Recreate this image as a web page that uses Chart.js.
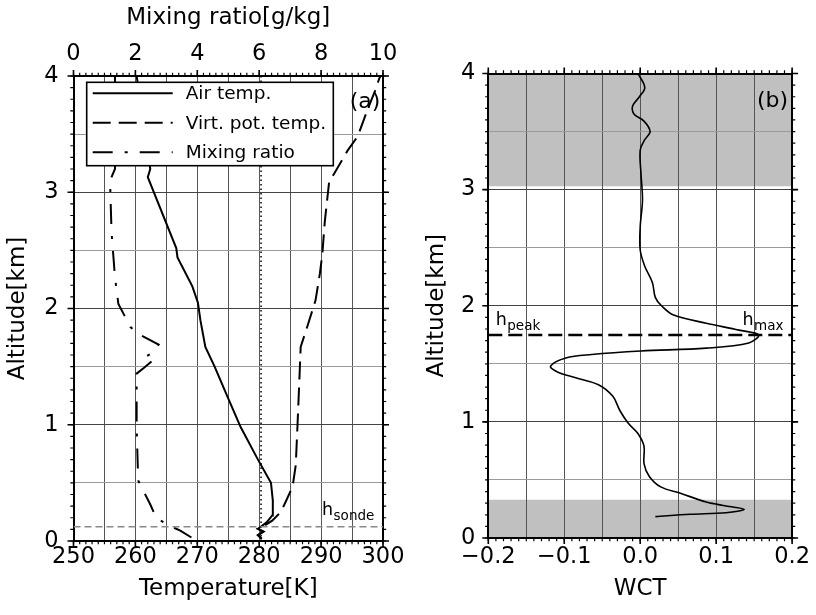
<!DOCTYPE html>
<html><head><meta charset="utf-8">
<script src="https://cdn.jsdelivr.net/npm/chart.js@4.4.1/dist/chart.umd.min.js"></script>
<style>
html,body{margin:0;padding:0;background:#fff;}
#wrap{position:relative;width:816px;height:615px;overflow:hidden;background:#fff;}
canvas{position:absolute;top:0;}
#c1{left:0;} #c2{left:410px;}
</style></head><body>
<div id="wrap"><canvas id="c1" width="410" height="615"></canvas><canvas id="c2" width="406" height="615"></canvas></div>
<script>
// ---------- data ----------
const seriesNames = ['Air temp.', 'Virt. pot. temp.', 'Mixing ratio'];
const airT   = [280.4, 279.8, 280.7, 279.8, 280.3, 281.2, 282.1, 282.2, 281.9, 279.8, 277.0, 274.8, 272.8, 271.3, 270.5, 270.1, 269.2, 266.8, 266.6, 262.0, 262.4, 261.3, 260.2];
const airAlt = [0.02, 0.05, 0.08, 0.105, 0.125, 0.16, 0.22, 0.35, 0.50, 0.70, 0.98, 1.25, 1.50, 1.67, 1.90, 2.05, 2.19, 2.44, 2.52, 3.13, 3.20, 3.60, 4.00];
const vptT   = [280.4, 279.8, 280.7, 279.8, 280.5, 282.1, 283.5, 284.3, 285.4, 285.9, 286.2, 286.5, 286.7, 287.8, 289.1, 289.8, 290.2, 290.6, 291.3, 292.1, 294.3, 295.9, 297.5, 298.7, 299.4, 299.6];
const vptAlt = [0.02, 0.05, 0.08, 0.105, 0.12, 0.175, 0.25, 0.34, 0.47, 0.65, 1.01, 1.40, 1.67, 1.85, 2.07, 2.30, 2.47, 2.75, 3.09, 3.16, 3.36, 3.48, 3.71, 3.87, 3.98, 4.00];
const mixR   = [3.81, 3.45, 3.17, 2.68, 2.47, 2.09, 2.04, 2.04, 2.28, 2.55, 2.31, 2.52, 2.75, 2.10, 1.84, 1.45, 1.34, 1.23, 1.18, 1.34, 1.34];
const mixAlt = [0.03, 0.09, 0.123, 0.195, 0.32, 0.52, 0.98, 1.44, 1.49, 1.55, 1.58, 1.615, 1.69, 1.78, 1.84, 2.04, 2.27, 2.65, 3.10, 3.20, 4.00];
const wctVal = [-0.003, 0.006, -0.001, -0.010, -0.008, 0.005, 0.013, 0.006, 0.000, 0.001, 0.003, 0.000, 0.000, 0.006, 0.016, 0.020, 0.028, 0.044, 0.087, 0.130, 0.156, 0.143, 0.087, 0.001, -0.064, -0.098, -0.118, -0.109, -0.085, -0.055, -0.036, -0.027, -0.016, -0.003, 0.005, 0.005, 0.012, 0.027, 0.053, 0.087, 0.113, 0.137, 0.113, 0.066, 0.020];
const wctAlt = [4.00, 3.88, 3.80, 3.72, 3.65, 3.59, 3.50, 3.43, 3.34, 3.14, 2.91, 2.68, 2.48, 2.34, 2.20, 2.07, 2.00, 1.92, 1.85, 1.79, 1.748, 1.68, 1.635, 1.61, 1.58, 1.55, 1.48, 1.43, 1.38, 1.32, 1.22, 1.10, 0.99, 0.90, 0.79, 0.64, 0.53, 0.44, 0.385, 0.31, 0.276, 0.247, 0.218, 0.204, 0.184];
const tempTicks = [250, 260, 270, 280, 290, 300];
const mixTicks  = [0, 2, 4, 6, 8, 10];
const altTicks  = [0, 1, 2, 3, 4];
const wctTicks  = [-0.2, -0.1, 0, 0.1, 0.2];
const hSonde = 0.123;
const tSurface = 280.3;
const hPeak = 1.748;
const shadeLow = [0, 0.33];
const shadeHigh = [3.03, 4];

// ---------- helpers ----------
const FAM = '"DejaVu Sans", sans-serif';
Chart.defaults.font.family = FAM;
Chart.defaults.color = '#000';
const F_TICK = {family: FAM, size: 22.5};
const F_TITLE = {family: FAM, size: 23};
const pts = (xs, ys) => xs.map((x, i) => ({x: x, y: ys[i]}));
const labelIf = (list, fmt) => v => list.some(t => Math.abs(t - v) < 1e-9) ? fmt(v) : '';
const fmtWct = v => Math.abs(v) < 1e-9 ? '0.0' : v.toFixed(1).replace('-', '\u2212');
const border = {display: true, color: '#000', width: 2};
const hGridColor = c => (c.tick && Math.abs(c.tick.value - Math.round(c.tick.value)) < 1e-9) ? '#444' : '#9a9a9a';

function makeTickPlugin(spec) {
  return {
    id: 'tickMarks',
    afterDraw(chart) {
      const ctx = chart.ctx, ca = chart.chartArea;
      ctx.save();
      ctx.strokeStyle = '#000';
      ctx.setLineDash([]);
      for (const id in spec) {
        const s = chart.scales[id];
        if (!s) continue;
        for (const [step, len, lw] of [[spec[id].minor, 3.2, 1.2], [spec[id].major, 6, 1.6]]) {
          if (!step) continue;
          const n = Math.round((s.max - s.min) / step);
          ctx.lineWidth = lw;
          ctx.beginPath();
          for (let i = 0; i <= n; i++) {
            const p = s.getPixelForValue(s.min + i * step);
            if (s.position === 'bottom') { ctx.moveTo(p, ca.bottom); ctx.lineTo(p, ca.bottom + len); }
            else if (s.position === 'top') { ctx.moveTo(p, ca.top); ctx.lineTo(p, ca.top - len); }
            else if (s.position === 'left') { ctx.moveTo(ca.left, p); ctx.lineTo(ca.left - len, p); }
            else { ctx.moveTo(ca.right, p); ctx.lineTo(ca.right + len, p); }
          }
          ctx.stroke();
        }
      }
      ctx.restore();
    }
  };
}

function subLabel(ctx, x, yb, main, sub) {
  ctx.textAlign = 'left';
  ctx.textBaseline = 'alphabetic';
  ctx.font = '17.5px ' + FAM;
  ctx.fillText(main, x, yb);
  const w = ctx.measureText(main).width;
  ctx.font = '13.5px ' + FAM;
  ctx.fillText(sub, x + w + 0.5, yb + 5);
}

const legendPlugin = {
  id: 'boxLegend',
  afterDatasetsDraw(chart) {
    const ctx = chart.ctx, ca = chart.chartArea;
    const x0 = ca.left + 13.2, y0 = ca.top + 6.3, w = 246.6, h = 83.4;
    ctx.save();
    ctx.fillStyle = '#fff';
    ctx.fillRect(x0, y0, w, h);
    ctx.setLineDash([]);
    ctx.lineWidth = 1.6;
    ctx.strokeStyle = '#000';
    ctx.strokeRect(x0, y0, w, h);
    seriesNames.forEach((name, i) => {
      const ds = chart.data.datasets.find(d => d.label === name);
      const y = y0 + 11 + i * 29.5;
      ctx.setLineDash(ds.borderDash || []);
      ctx.lineWidth = ds.borderWidth;
      ctx.beginPath();
      ctx.moveTo(x0 + 6, y);
      ctx.lineTo(x0 + 86, y);
      ctx.stroke();
      ctx.setLineDash([]);
      ctx.fillStyle = '#000';
      ctx.font = '18.5px ' + FAM;
      ctx.textBaseline = 'middle';
      ctx.textAlign = 'left';
      ctx.fillText(name, x0 + 99, y + 1);
    });
    ctx.restore();
  }
};

const textLeft = {
  id: 'textLeft',
  afterDatasetsDraw(chart) {
    const ctx = chart.ctx, ca = chart.chartArea, ys = chart.scales.y;
    ctx.save();
    ctx.fillStyle = '#000';
    ctx.font = '22px ' + FAM;
    ctx.textAlign = 'center';
    ctx.textBaseline = 'middle';
    ctx.fillText('(a)', ca.right - 18, ca.top + 26);
    subLabel(ctx, ca.right - 61, ys.getPixelForValue(hSonde) - 11.7, 'h', 'sonde');
    ctx.restore();
  }
};

const textRight = {
  id: 'textRight',
  afterDatasetsDraw(chart) {
    const ctx = chart.ctx, ca = chart.chartArea, ys = chart.scales.y;
    ctx.save();
    ctx.fillStyle = '#000';
    ctx.font = '22px ' + FAM;
    ctx.textAlign = 'center';
    ctx.textBaseline = 'middle';
    ctx.fillText('(b)', ca.right - 19.6, ca.top + 27.5);
    const yb = ys.getPixelForValue(hPeak) - 10;
    subLabel(ctx, ca.left + 7.4, yb, 'h', 'peak');
    subLabel(ctx, ca.right - 49.6, yb, 'h', 'max');
    ctx.restore();
  }
};

// ---------- left panel ----------
new Chart(document.getElementById('c1'), {
  type: 'line',
  data: {datasets: [
    {label: 'h_sonde', data: pts([250, 300], [hSonde, hSonde]), borderColor: '#8a8a8a', borderWidth: 1.5, borderDash: [7, 4]},
    {label: 'surface', data: pts([tSurface, tSurface], [0, 4]), borderColor: '#000', borderWidth: 1.5, borderDash: [1.5, 3]},
    {label: seriesNames[2], data: pts(mixR, mixAlt), xAxisID: 'x2', borderColor: '#000', borderWidth: 2, borderDash: [20, 12, 3, 12]},
    {label: seriesNames[1], data: pts(vptT, vptAlt), borderColor: '#000', borderWidth: 2, borderDash: [18, 8]},
    {label: seriesNames[0], data: pts(airT, airAlt), borderColor: '#000', borderWidth: 2}
  ]},
  options: {
    responsive: false, animation: false, events: [],
    layout: {padding: 0},
    elements: {point: {radius: 0}, line: {tension: 0, fill: false}},
    plugins: {legend: {display: false}, tooltip: {enabled: false}},
    scales: {
      x: {type: 'linear', axis: 'x', position: 'bottom', min: 250, max: 300,
        ticks: {stepSize: 5, autoSkip: false, maxRotation: 0, padding: 3, font: F_TICK, color: '#000', callback: labelIf(tempTicks, v => String(v))},
        grid: {color: '#555', lineWidth: 1, drawTicks: false},
        border: border,
        title: {display: true, text: 'Temperature[K]', font: F_TITLE, color: '#000', padding: {top: 0, bottom: 12}},
        afterFit: s => { s.height = 74; }},
      x2: {type: 'linear', axis: 'x', position: 'top', min: 0, max: 10,
        ticks: {stepSize: 2, autoSkip: false, maxRotation: 0, padding: 8, font: F_TICK, color: '#000', callback: labelIf(mixTicks, v => String(v))},
        grid: {display: false, drawTicks: false},
        border: border,
        title: {display: true, text: 'Mixing ratio[g/kg]', font: F_TITLE, color: '#000', padding: {top: 4, bottom: 0}},
        afterFit: s => { s.height = 76; }},
      y: {type: 'linear', axis: 'y', position: 'left', min: 0, max: 4,
        ticks: {stepSize: 0.5, autoSkip: false, padding: 15, font: F_TICK, color: '#000', callback: labelIf(altTicks, v => String(v))},
        grid: {color: hGridColor, lineWidth: 1, drawTicks: false},
        border: border,
        title: {display: true, text: 'Altitude[km]', font: F_TITLE, color: '#000', padding: {top: 4, bottom: 0}},
        afterFit: s => { s.width = 73.5; }},
      y2: {type: 'linear', axis: 'y', position: 'right', min: 0, max: 4,
        ticks: {display: false},
        grid: {display: false, drawTicks: false},
        border: border,
        afterFit: s => { s.width = 27; }}
    }
  },
  plugins: [makeTickPlugin({x: {minor: 1, major: 10}, x2: {minor: 0.2, major: 2}, y: {minor: 0.1, major: 1}, y2: {minor: 0.1, major: 1}}), legendPlugin, textLeft]
});

// ---------- right panel ----------
new Chart(document.getElementById('c2'), {
  type: 'line',
  data: {datasets: [
    {label: 'shade low', data: pts([-0.2, 0.2], [shadeLow[1], shadeLow[1]]), fill: 'origin', backgroundColor: '#c0c0c0', borderColor: 'rgba(0,0,0,0)', borderWidth: 0},
    {label: 'shade high', data: pts([-0.2, 0.2], [shadeHigh[0], shadeHigh[0]]), fill: 'end', backgroundColor: '#c0c0c0', borderColor: 'rgba(0,0,0,0)', borderWidth: 0},
    {label: 'h_peak', data: pts([-0.2, 0.2], [hPeak, hPeak]), borderColor: '#000', borderWidth: 2.5, borderDash: [14, 6]},
    {label: 'WCT', data: pts(wctVal, wctAlt), borderColor: '#000', borderWidth: 1.6, tension: 0.35}
  ]},
  options: {
    responsive: false, animation: false, events: [],
    layout: {padding: 0},
    elements: {point: {radius: 0}, line: {tension: 0}},
    plugins: {legend: {display: false}, tooltip: {enabled: false}, filler: {drawTime: 'beforeDraw'}},
    scales: {
      x: {type: 'linear', axis: 'x', position: 'bottom', min: -0.2, max: 0.2,
        ticks: {stepSize: 0.05, autoSkip: false, maxRotation: 0, padding: 6, font: F_TICK, color: '#000', callback: labelIf(wctTicks, fmtWct)},
        grid: {color: '#555', lineWidth: 1, drawTicks: false},
        border: border,
        title: {display: true, text: 'WCT', font: F_TITLE, color: '#000', padding: {top: 0, bottom: 12}},
        afterFit: s => { s.height = 77; }},
      x2: {type: 'linear', axis: 'x', position: 'top', min: -0.2, max: 0.2,
        ticks: {display: false},
        grid: {display: false, drawTicks: false},
        border: border,
        afterFit: s => { s.height = 73.5; }},
      y: {type: 'linear', axis: 'y', position: 'left', min: 0, max: 4,
        ticks: {stepSize: 0.5, autoSkip: false, padding: 13, font: F_TICK, color: '#000', callback: labelIf(altTicks, v => String(v))},
        grid: {color: hGridColor, lineWidth: 1, drawTicks: false},
        border: border,
        title: {display: true, text: 'Altitude[km]', font: F_TITLE, color: '#000', padding: {top: 13, bottom: 0}},
        afterFit: s => { s.width = 78.3; }},
      y2: {type: 'linear', axis: 'y', position: 'right', min: 0, max: 4,
        ticks: {display: false},
        grid: {display: false, drawTicks: false},
        border: border,
        afterFit: s => { s.width = 18.7; }}
    }
  },
  plugins: [makeTickPlugin({x: {minor: 0.01, major: 0.1}, x2: {minor: 0.01, major: 0.1}, y: {minor: 0.1, major: 1}, y2: {minor: 0.1, major: 1}}), textRight]
});
</script>
</body></html>
